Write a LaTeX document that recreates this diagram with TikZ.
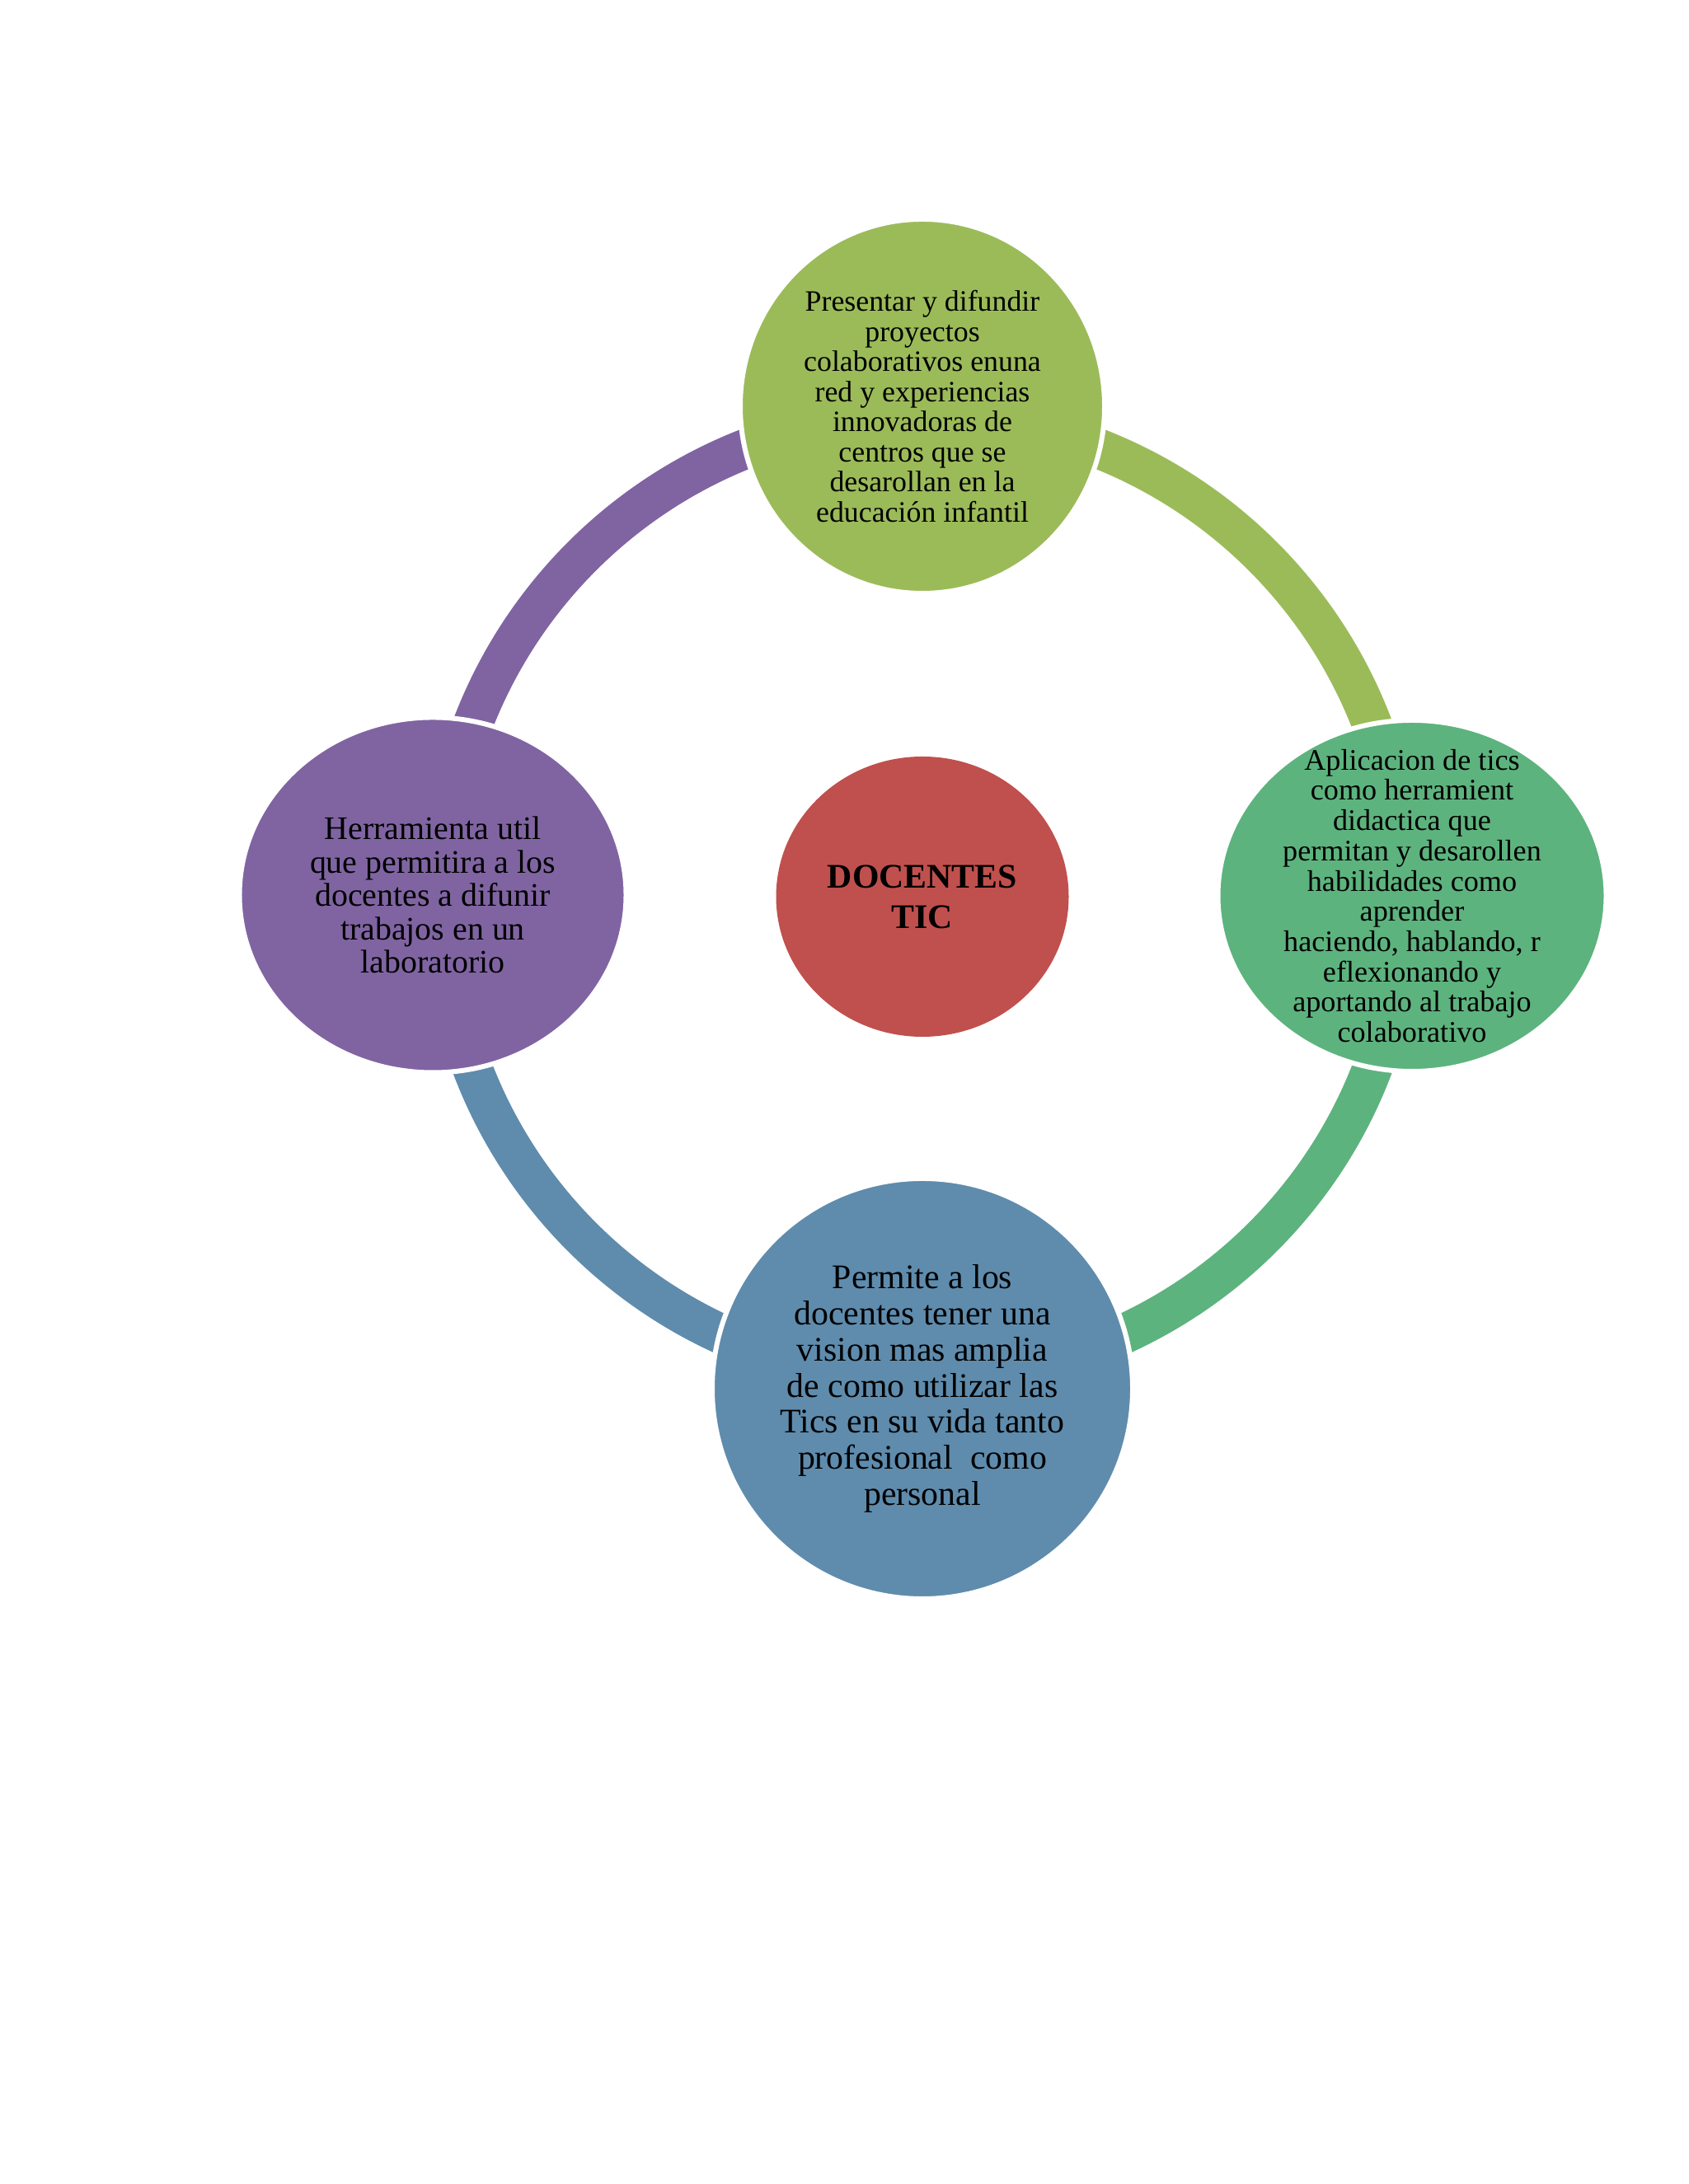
\documentclass[tikz,border=0pt]{standalone}
\usepackage{fontspec}
\setmainfont{Liberation Serif}
\usetikzlibrary{shapes.geometric}

\definecolor{olivegreen}{HTML}{9BBB59}
\definecolor{seagreen}{HTML}{5DB37E}
\definecolor{steelblue}{HTML}{5F8CAD}
\definecolor{lavender}{HTML}{8064A2}
\definecolor{brick}{HTML}{C0504D}

\tikzset{
	bubble/.style={ellipse, draw=white, line width=1.7pt, inner sep=0pt},
	ringarc/.style={line width=13.8pt},
	txt/.style={align=center, inner sep=0pt, text=black},
}

\begin{document}
\begin{tikzpicture}

	\useasboundingbox[fill=white] (0,0) rectangle (20.48,26.5);

	% hub of the cycle
	\coordinate (hub) at (11.19,15.62);

	% ring pieces
	\draw[ringarc, olivegreen] (hub) ++(90:5.84) arc[start angle=90, end angle=0, radius=5.84cm];
	\draw[ringarc, seagreen] (hub) ++(0:5.84) arc[start angle=0, end angle=-90, radius=5.84cm];
	\draw[ringarc, steelblue] (hub) ++(-90:5.84) arc[start angle=-90, end angle=-180, radius=5.84cm];
	\draw[ringarc, lavender] (hub) ++(180:5.84) arc[start angle=180, end angle=90, radius=5.84cm];

	% bubbles
	\node[bubble, fill=olivegreen, minimum width=4.42cm, minimum height=4.54cm] (top) at (11.19,21.57) {};
	\node[bubble, fill=seagreen, minimum width=4.71cm, minimum height=4.26cm] (right) at (17.13,15.63) {};
	\node[bubble, fill=steelblue, minimum width=5.10cm, minimum height=5.10cm] (bottom) at (11.19,9.65) {};
	\node[bubble, fill=lavender, minimum width=4.69cm, minimum height=4.31cm] (left) at (5.25,15.64) {};
	\node[ellipse, fill=brick, inner sep=0pt, minimum width=3.55cm, minimum height=3.40cm] (center) at (hub) {};

	% texts
	\node[txt, font=\fontsize{10.2}{10.4}\selectfont] (toptext) at (top) {Presentar y difundir\\proyectos\\colaborativos enuna\\red y experiencias\\innovadoras de\\centros que se\\desarollan en la\\educación infantil};
	\node[txt, font=\fontsize{10.3}{10.44}\selectfont] (righttext) at (right) {Aplicacion de tics\\como herramient\\didactica que\\permitan y desarollen\\habilidades como\\aprender\\haciendo, hablando, r\\eflexionando y\\aportando al trabajo\\colaborativo};
	\node[txt, font=\fontsize{11.9}{12.5}\selectfont] (bottomtext) at (bottom) {Permite a los\\docentes tener una\\vision mas amplia\\de como utilizar las\\Tics en su vida tanto\\profesional\ \ como\\personal};
	\node[txt, font=\fontsize{11.35}{11.5}\selectfont] (lefttext) at (left) {Herramienta util\\que permitira a los\\docentes a difunir\\trabajos en un\\laboratorio};
	\node[txt, font=\fontsize{11.9}{13.9}\selectfont\bfseries] (centertext) at (center) {DOCENTES\\TIC};

\end{tikzpicture}
\end{document}
